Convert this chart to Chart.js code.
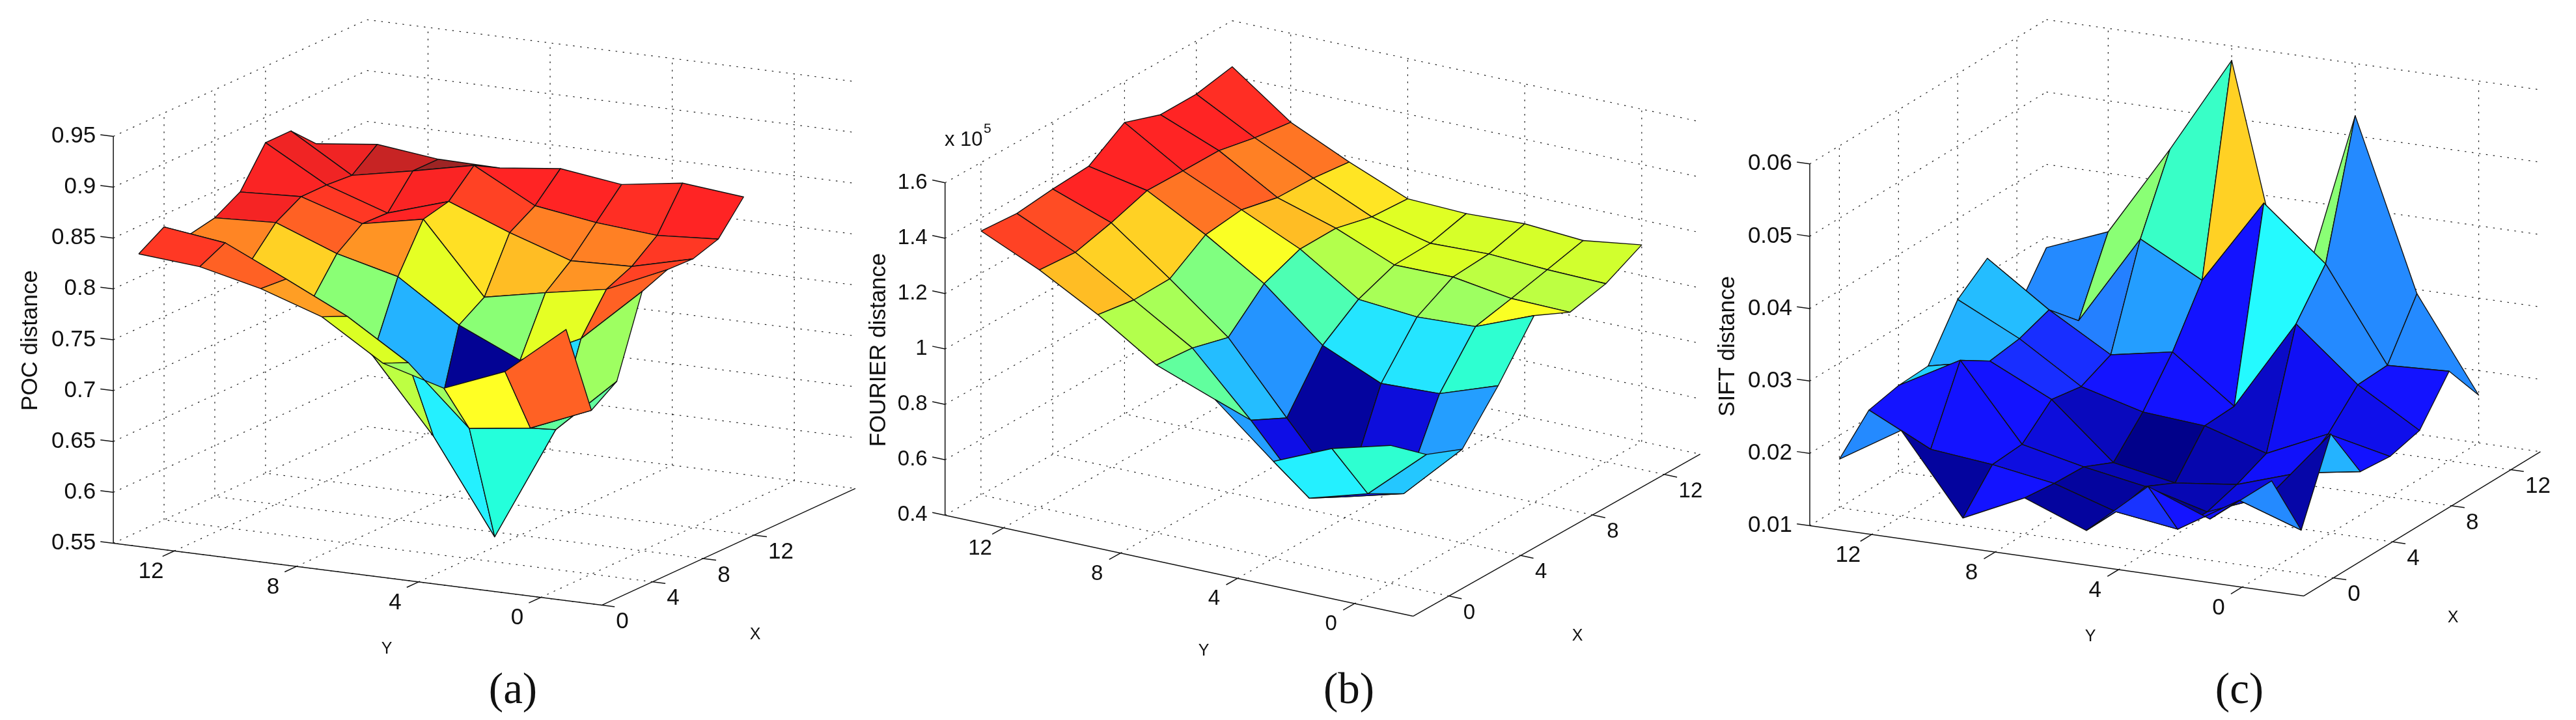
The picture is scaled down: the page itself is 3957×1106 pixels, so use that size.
<!DOCTYPE html>
<html>
<head>
<meta charset="utf-8">
<title>Distance surfaces</title>
<script src="https://cdn.jsdelivr.net/npm/chart.js@4"></script>
<style>
  html, body { margin: 0; padding: 0; background: #fff; width: 3957px; height: 1106px; overflow: hidden; }
  canvas { position: absolute; top: 0; }
</style>
</head>
<body>
<canvas id="chartA"></canvas>
<canvas id="chartB"></canvas>
<canvas id="chartC"></canvas>
<script>
// grid of the surfaces: Y runs from 14 down to 0, one row per X value
const yValues = [14, 12, 10, 8, 6, 4, 2, 0]
const xValuesA = [2, 4, 6, 8, 10, 12, 14, 16]
const xValuesBC = [0, 2, 4, 6, 8, 10, 12, 14]

const xTicks = [0, 4, 8, 12]
const yTicks = [12, 8, 4, 0]
const zTicksA = [0.55, 0.6, 0.65, 0.7, 0.75, 0.8, 0.85, 0.9, 0.95]
const zTicksB = [0.4, 0.6, 0.8, 1, 1.2, 1.4, 1.6]
const zTicksC = [0.01, 0.02, 0.03, 0.04, 0.05, 0.06]

// POC distance
const pocZ = [
  [0.823, 0.818, 0.804, 0.784, 0.746, 0.729, 0.753, 0.802],
  [0.838, 0.830, 0.802, 0.773, 0.735, 0.678, 0.686, 0.711],
  [0.819, 0.800, 0.769, 0.723, 0.651, 0.560, 0.673, 0.728],
  [0.824, 0.827, 0.804, 0.789, 0.749, 0.722, 0.751, 0.805],
  [0.838, 0.841, 0.822, 0.834, 0.765, 0.777, 0.788, 0.815],
  [0.875, 0.841, 0.821, 0.840, 0.817, 0.797, 0.799, 0.814],
  [0.875, 0.839, 0.851, 0.864, 0.832, 0.823, 0.818, 0.822],
  [0.851, 0.858, 0.851, 0.850, 0.857, 0.849, 0.858, 0.852],
]
const pocColor = [
  [0.82, 0.78, 0.72, 0.59, 0.53, 0.625, 0.78],
  [0.78, 0.76, 0.6, 0.56, 0.36, 0.41, 0.47],
  [0.745, 0.67, 0.51, 0.3, 0.02, 0.34, 0.53],
  [0.885, 0.78, 0.73, 0.6, 0.51, 0.6, 0.78],
  [0.88, 0.82, 0.87, 0.655, 0.69, 0.73, 0.81],
  [0.89, 0.83, 0.88, 0.81, 0.75, 0.75, 0.82],
  [0.89, 0.93, 0.97, 0.87, 0.85, 0.83, 0.84],
]

// FOURIER distance (x 10^5)
const fourierZ = [
  [1.353, 1.258, 1.142, 1.006, 0.927, 0.749, 0.841, 0.898],
  [1.343, 1.248, 1.122, 0.994, 0.779, 0.543, 0.605, 0.792],
  [1.358, 1.282, 1.125, 0.959, 0.714, 0.475, 0.532, 0.738],
  [1.367, 1.325, 1.211, 1.08, 0.903, 0.811, 0.82, 0.894],
  [1.452, 1.323, 1.228, 1.132, 0.996, 0.978, 0.989, 1.074],
  [1.407, 1.323, 1.199, 1.134, 1.047, 1.049, 1.017, 1.013],
  [1.408, 1.296, 1.196, 1.102, 1.052, 1.059, 1.048, 1.043],
  [1.434, 1.279, 1.181, 1.094, 1.086, 1.095, 1.08, 1.11],
]
const fourierColor = [
  [0.81, 0.69, 0.55, 0.47, 0.28, 0.36, 0.42],
  [0.8, 0.67, 0.54, 0.31, 0.1, 0.15, 0.32],
  [0.84, 0.67, 0.5, 0.27, 0.03, 0.09, 0.28],
  [0.87, 0.76, 0.62, 0.45, 0.35, 0.35, 0.42],
  [0.87, 0.78, 0.69, 0.55, 0.54, 0.53, 0.62],
  [0.87, 0.75, 0.67, 0.59, 0.59, 0.56, 0.56],
  [0.83, 0.76, 0.65, 0.595, 0.585, 0.585, 0.58],
]

// SIFT distance
const siftZ = [
  [0.0167, 0.0219, 0.011, 0.015, 0.0117, 0.019, 0.0157, 0.0222],
  [0.021, 0.0168, 0.0159, 0.0145, 0.0118, 0.0106, 0.0158, 0.0129],
  [0.0219, 0.0266, 0.0162, 0.0143, 0.0128, 0.0105, 0.0139, 0.0237],
  [0.0221, 0.024, 0.0199, 0.0124, 0.0108, 0.0118, 0.0146, 0.016],
  [0.0288, 0.0246, 0.0192, 0.0169, 0.0162, 0.0136, 0.0175, 0.0156],
  [0.032, 0.0261, 0.0211, 0.0227, 0.0164, 0.029, 0.0218, 0.0167],
  [0.0223, 0.0221, 0.0346, 0.0301, 0.042, 0.0348, 0.022, 0.0224],
  [0.0285, 0.0319, 0.0445, 0.058, 0.0232, 0.0528, 0.0294, 0.0166],
]
const siftColor = [
  [0.26, 0.03, 0.13, 0.03, 0.175, 0.14, 0.26],
  [0.14, 0.13, 0.095, 0.03, 0.02, 0.11, 0.04],
  [0.33, 0.13, 0.09, 0.05, 0.05, 0.09, 0.3],
  [0.3, 0.17, 0.06, 0.01, 0.045, 0.12, 0.125],
  [0.31, 0.17, 0.14, 0.135, 0.07, 0.115, 0.105],
  [0.26, 0.25, 0.28, 0.135, 0.37, 0.26, 0.13],
  [0.26, 0.51, 0.43, 0.67, 0.51, 0.26, 0.26],
]

const SANS = '"Liberation Sans", Arial, sans-serif'
const SERIF = '"Liberation Serif", "Times New Roman", serif'

// jet colormap as in matlab, with the slight ink lift the printed figure has
function jet(v) {
  const lift = 0.14 * Math.min(1, v / 0.25)
  const c = (t) => {
    const a = Math.max(0, Math.min(1, 1.5 - Math.abs(4 * v - t)))
    return Math.round(255 * Math.max(a, lift))
  }
  return `rgb(${c(3)},${c(2)},${c(1)})`
}

// one 3d box: parallel projection of (X, Y, Z) to page pixels
function makeProjection(p) {
  return (X, Y, Z) => ({
    x: p.ox + p.ux[0] * (X - p.xRange[0]) + p.uy[0] * (p.yRange[1] - Y),
    y: p.oy + p.ux[1] * (X - p.xRange[0]) + p.uy[1] * (p.yRange[1] - Y) - p.uz * (Z - p.zTicks[0]),
  })
}

function lineSet(points, color, width, dash) {
  return {
    data: points,
    showLine: true,
    fill: false,
    borderColor: color,
    borderWidth: width,
    borderDash: dash || [],
    pointRadius: 0,
    tension: 0,
    clip: false,
  }
}

function buildDatasets(p) {
  const proj = makeProjection(p)
  const [x0, x1] = p.xRange
  const [y0, y1] = p.yRange
  const z0 = p.zTicks[0]
  const z1 = p.zTicks[p.zTicks.length - 1]
  const dots = [2.5, 8.5]
  const sets = []
  const grid = (a, b) => sets.push(lineSet([a, b], "#1c1c1c", 1.2, dots))

  // dotted walls and floor
  p.zTicks.forEach((z) => {
    grid(proj(x0, y1, z), proj(x1, y1, z))
    grid(proj(x1, y1, z), proj(x1, y0, z))
  })
  xTicks.forEach((x) => {
    if (x > x0) grid(proj(x, y1, z0), proj(x, y1, z1))
    grid(proj(x, y0, z0), proj(x, y1, z0))
  })
  yTicks.forEach((y) => {
    grid(proj(x1, y, z0), proj(x1, y, z1))
    grid(proj(x0, y, z0), proj(x1, y, z0))
  })

  // solid axes and tick marks
  const solid = (a, b) => sets.push(lineSet([a, b], "#111", 1.5))
  solid(proj(x0, y1, z0), proj(x0, y1, z1))
  solid(proj(x0, y1, z0), proj(x0, y0, z0))
  solid(proj(x0, y0, z0), proj(x1, y0, z0))
  const ul = Math.hypot(p.uy[0], p.uy[1])
  const xl = Math.hypot(p.ux[0], p.ux[1])
  p.zTicks.forEach((z) => {
    const a = proj(x0, y1, z)
    solid(a, { x: a.x - (p.uy[0] / ul) * 20, y: a.y - (p.uy[1] / ul) * 20 })
  })
  xTicks.forEach((x) => {
    const a = proj(x, y0, z0)
    solid(a, { x: a.x + (p.uy[0] / ul) * 20, y: a.y + (p.uy[1] / ul) * 20 })
  })
  yTicks.forEach((y) => {
    const a = proj(x0, y, z0)
    solid(a, { x: a.x - (p.ux[0] / xl) * 20, y: a.y - (p.ux[1] / xl) * 20 })
  })

  // surface, far cells first so nearer ones cover them
  for (let j = p.z.length - 2; j >= 0; j--) {
    for (let i = 0; i < yValues.length - 1; i++) {
      const corner = (a, b) => proj(p.xValues[a], yValues[b], p.z[a][b])
      const first = corner(j, i)
      const cell = lineSet([first, corner(j + 1, i), corner(j + 1, i + 1), corner(j, i + 1), first], "#111", 1.4)
      cell.fill = "shape"
      cell.backgroundColor = jet(p.color[j][i])
      cell.borderJoinStyle = "round"
      sets.push(cell)
    }
  }
  // chart.js paints the first dataset last
  return sets.reverse()
}

const textPlugin = {
  id: "axisText",
  afterDraw(chart, args, opts) {
    const p = opts.panel
    const proj = makeProjection(p)
    const sx = chart.scales.x
    const sy = chart.scales.y
    const ctx = chart.ctx
    const put = (str, x, y, font, align, rot) => {
      ctx.save()
      ctx.translate(sx.getPixelForValue(x), sy.getPixelForValue(y))
      if (rot) ctx.rotate(rot)
      ctx.font = font
      ctx.fillStyle = "#111"
      ctx.textAlign = align
      ctx.textBaseline = "middle"
      ctx.fillText(str, 0, 0)
      ctx.restore()
    }
    const tickFont = `${p.tickSize}px ${SANS}`
    p.zTicks.forEach((z, k) => {
      const a = proj(p.xRange[0], p.yRange[1], z)
      put(p.zLabels[k], a.x - 27, a.y, tickFont, "right")
    })
    xTicks.forEach((x) => {
      const a = proj(x, p.yRange[0], p.zTicks[0])
      put(String(x), a.x + 22, a.y + 26, tickFont, "left")
    })
    yTicks.forEach((y) => {
      const a = proj(p.xRange[0], y, p.zTicks[0])
      put(String(y), a.x - 36, a.y + 32, tickFont, "center")
    })
    put(p.zTitle, p.zTitlePos[0], p.zTitlePos[1], `35px ${SANS}`, "center", -Math.PI / 2)
    put("Y", p.yTitlePos[0], p.yTitlePos[1], `25px ${SANS}`, "center")
    put("X", p.xTitlePos[0], p.xTitlePos[1], `25px ${SANS}`, "center")
    put(p.caption, p.captionPos[0], p.captionPos[1], `67px ${SERIF}`, "center")
    if (p.exponent) {
      put("x 10", p.exponent[0], p.exponent[1], `31px ${SANS}`, "left")
      put("5", p.exponent[0] + 60, p.exponent[1] - 17, `21px ${SANS}`, "left")
    }
  },
}

function drawPanel(id, left, width, panel) {
  const el = document.getElementById(id)
  el.style.left = left + "px"
  el.width = width
  el.height = 1106
  new Chart(el, {
    type: "scatter",
    data: { datasets: buildDatasets(panel) },
    plugins: [textPlugin],
    options: {
      responsive: false,
      animation: false,
      devicePixelRatio: 1,
      events: [],
      layout: { padding: 0 },
      scales: {
        x: { type: "linear", display: false, min: left, max: left + width },
        y: { type: "linear", display: false, min: 0, max: 1106, reverse: true },
      },
      plugins: {
        legend: { display: false },
        tooltip: { enabled: false },
        axisText: { panel },
      },
    },
  })
}

drawPanel("chartA", 0, 1330, {
  xValues: xValuesA, z: pocZ, color: pocColor,
  xRange: [0, 20], yRange: [-2, 14], zTicks: zTicksA,
  zLabels: ["0.55", "0.6", "0.65", "0.7", "0.75", "0.8", "0.85", "0.9", "0.95"],
  ox: 174.1, oy: 834.4, ux: [19.48, -8.96], uy: [46.89, 5.95], uz: 1562.4,
  tickSize: 35, zTitle: "POC distance", zTitlePos: [47, 523],
  yTitlePos: [594, 997], xTitlePos: [1160, 975.5],
  caption: "(a)", captionPos: [788, 1062],
})
drawPanel("chartB", 1300, 1320, {
  xValues: xValuesBC, z: fourierZ, color: fourierColor,
  xRange: [-2, 14], yRange: [-2, 14], zTicks: zTicksB,
  zLabels: ["0.4", "0.6", "0.8", "1", "1.2", "1.4", "1.6"],
  ox: 1451.7, oy: 791.4, ux: [27.57, -15.56], uy: [44.93, 9.7], uz: 425.5,
  tickSize: 33, zTitle: "FOURIER distance", zTitlePos: [1350, 537.5],
  yTitlePos: [1849, 1000], xTitlePos: [2423, 977],
  caption: "(b)", captionPos: [2072, 1062],
  exponent: [1451, 215],
})
drawPanel("chartC", 2600, 1357, {
  xValues: xValuesBC, z: siftZ, color: siftColor,
  xRange: [-2, 14], yRange: [-2, 14], zTicks: zTicksC,
  zLabels: ["0.01", "0.02", "0.03", "0.04", "0.05", "0.06"],
  ox: 2780, oy: 807.6, ux: [22.72, -13.85], uy: [47.43, 6.74], uz: 11116.6,
  tickSize: 35, zTitle: "SIFT distance", zTitlePos: [2654, 532],
  yTitlePos: [3211, 978], xTitlePos: [3768, 949],
  caption: "(c)", captionPos: [3440, 1062],
})
</script>
</body>
</html>
